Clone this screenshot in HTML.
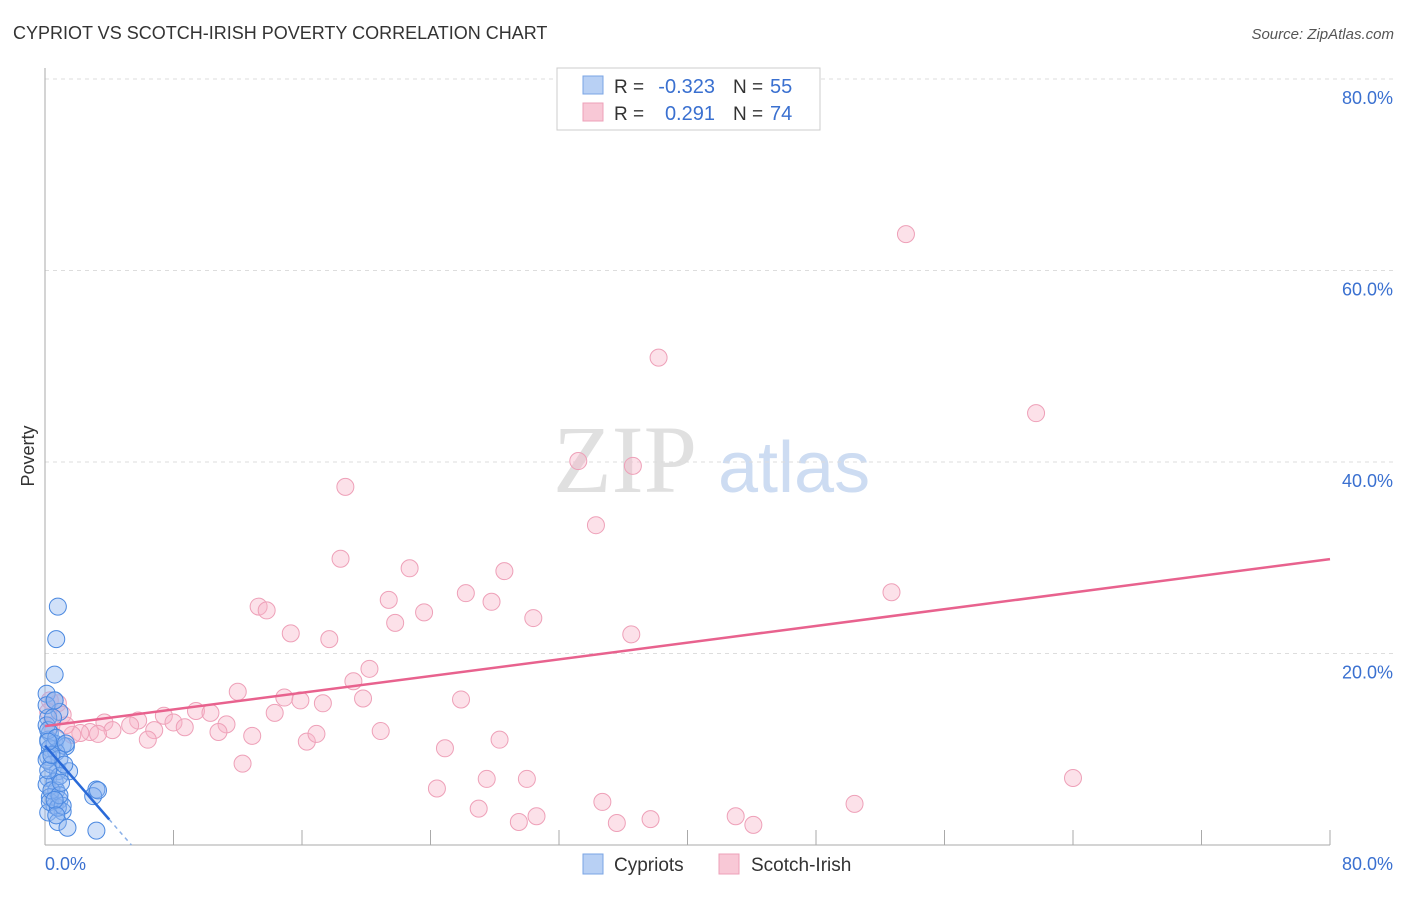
<!DOCTYPE html>
<html><head><meta charset="utf-8"><style>
body{margin:0;background:#fff;font-family:"Liberation Sans",sans-serif;}
</style></head><body>
<svg width="1406" height="892" id="c" font-family="Liberation Sans, sans-serif">
<text x="13" y="39" font-size="18" fill="#333">CYPRIOT VS SCOTCH-IRISH POVERTY CORRELATION CHART</text>
<text x="1394" y="39" font-size="15" fill="#555" font-style="italic" text-anchor="end">Source: ZipAtlas.com</text>
<text x="34" y="456" font-size="18" fill="#333" transform="rotate(-90 34 456)" text-anchor="middle">Poverty</text>
<text x="553" y="492" font-size="96" fill="#e0e0e0" style="font-family:'Liberation Serif',serif">ZIP</text>
<text x="718" y="492" font-size="72" fill="#cddcf2">atlas</text>
<g id="grid"></g><g id="pts"></g><g id="lines"></g>
<g>
<rect x="557" y="68" width="263" height="62" fill="#fff" stroke="#ccc"/>
<rect x="583" y="76" width="20" height="18" fill="#b8d0f4" stroke="#7aa4e4"/>
<rect x="583" y="103" width="20" height="18" fill="#f8c8d6" stroke="#eea0b8"/>
<text x="614" y="93" font-size="19" fill="#333">R =</text>
<text x="715" y="93" font-size="20" fill="#3a70d0" text-anchor="end">-0.323</text>
<text x="733" y="93" font-size="19" fill="#333">N =</text>
<text x="770" y="93" font-size="20" fill="#3a70d0">55</text>
<text x="614" y="120" font-size="19" fill="#333">R =</text>
<text x="715" y="120" font-size="20" fill="#3a70d0" text-anchor="end">0.291</text>
<text x="733" y="120" font-size="19" fill="#333">N =</text>
<text x="770" y="120" font-size="20" fill="#3a70d0">74</text>
</g>
<g>
<rect x="583" y="854" width="20" height="20" fill="#b8d0f4" stroke="#7aa4e4"/>
<text x="614" y="871" font-size="19" fill="#333">Cypriots</text>
<rect x="719" y="854" width="20" height="20" fill="#f8c8d6" stroke="#eea0b8"/>
<text x="751" y="871" font-size="19" fill="#333">Scotch-Irish</text>
</g>
</svg>
<script>
const yTicks=[20,40,60,80];
const pinkX=[53.6,38.2,61.7,33.2,36.6,18.7,34.3,18.4,22.7,28.6,26.2,27.8,21.4,13.3,13.8,23.6,21.8,30.4,52.7,15.3,17.7,36.5,20.2,19.2,12.0,25.9,19.8,14.9,15.9,17.3,9.4,10.3,14.3,7.4,5.8,3.7,5.3,8.0,11.3,8.7,10.8,6.8,4.2,2.8,2.2,3.3,1.7,6.4,12.9,16.3,16.9,20.9,28.3,24.9,12.3,27.5,30.0,64.0,24.4,34.7,27.0,50.4,29.5,30.6,35.6,37.7,43.0,44.1,0.8,1.1,1.3,0.3,0.2,0.4];
const pinkY=[63.8,50.9,45.1,40.1,39.6,37.4,33.4,29.9,28.9,28.6,26.3,25.4,25.6,24.9,24.5,24.3,23.2,23.7,26.4,22.1,21.5,22.0,18.4,17.1,16.0,15.2,15.3,15.4,15.1,14.8,14.0,13.8,13.8,13.5,13.0,12.8,12.5,12.8,12.6,12.3,11.8,12.0,12.0,11.8,11.7,11.6,11.5,11.0,11.4,10.8,11.6,11.9,11.0,10.1,8.5,6.9,6.9,7.0,5.9,4.5,3.8,4.3,2.4,3.0,2.3,2.7,3.0,2.1,14.8,13.6,12.5,15.1,13.9,12.5];
const blueX=[0.8,0.7,0.6,0.1,0.6,0.9,0.2,0.3,0.2,0.6,1.1,1.3,0.3,0.7,0.2,0.9,1.5,0.8,0.2,0.6,0.1,0.7,0.3,0.9,0.6,1.1,0.2,3.2,3.0,3.3,0.8,1.4,3.2,0.4,0.1,0.1,0.9,0.3,0.8,1.1,0.2,0.6,0.7,1.3,0.1,0.4,0.9,0.6,0.2,0.4,1.2,1.0,0.7,0.2,0.5];
const blueY=[24.9,21.5,17.8,15.8,15.1,13.9,13.3,11.7,11.0,10.6,10.4,10.3,10.1,9.7,9.2,9.0,7.7,7.7,7.0,6.6,6.3,5.7,5.0,4.7,4.1,3.5,3.4,5.8,5.1,5.7,2.4,1.8,1.5,8.4,12.5,14.6,7.2,4.5,3.9,4.1,12.0,15.1,11.2,10.6,8.9,5.7,5.2,4.7,7.8,9.4,8.4,6.5,3.1,10.8,13.3];
const NS='http://www.w3.org/2000/svg';
const X=v=>45+v*1285/80, Y=v=>845-v*(845-79)/80;
function mk(t,a,p){const e=document.createElementNS(NS,t);for(const k in a)e.setAttribute(k,a[k]);p.appendChild(e);return e;}
const grid=document.getElementById('grid');
yTicks.forEach(t=>{
 const l=mk('line',{x1:45,x2:1395,y1:Y(t),y2:Y(t),stroke:'#ddd','stroke-dasharray':'4,4'},grid);
 
 
 const tx=mk('text',{x:1393,y:Y(t)+25,'font-size':18,fill:'#3a70d0','text-anchor':'end'},grid);tx.textContent=t.toFixed(1)+'%';
 
 
});
mk('line',{x1:45,x2:45,y1:68,y2:845,stroke:'#aaa'},grid);
mk('line',{x1:45,x2:1330,y1:845,y2:845,stroke:'#aaa'},grid);
for(let i=0;i<=10;i++)mk('line',{x1:X(i*8),x2:X(i*8),y1:830,y2:845,stroke:'#aaa'},grid);
let t1=mk('text',{x:45,y:870,'font-size':18,fill:'#3a70d0'},grid);t1.textContent='0.0%';

let t2=mk('text',{x:1393,y:870,'font-size':18,fill:'#3a70d0','text-anchor':'end'},grid);t2.textContent='80.0%';

const pts=document.getElementById('pts');
pinkX.forEach((x,i)=>{const c=mk('circle',{cx:X(x),cy:Y(pinkY[i]),r:8.5,fill:'rgba(248,180,200,0.4)',stroke:'#eea0b8','stroke-width':1},pts);
 
 });
blueX.forEach((x,i)=>{const c=mk('circle',{cx:X(x),cy:Y(blueY[i]),r:8.5,fill:'rgba(140,180,240,0.4)',stroke:'#4a88e0','stroke-width':1},pts);
 
 });
function reg(xs,ys){const n=xs.length;let mx=0,my=0;xs.forEach((x,i)=>{mx+=x;my+=ys[i];});mx/=n;my/=n;let sxy=0,sxx=0;xs.forEach((x,i)=>{sxy+=(x-mx)*(ys[i]-my);sxx+=(x-mx)**2;});const b=sxy/sxx;return [my-b*mx,b];}
const lines=document.getElementById('lines');
const [pa,pb]=reg(pinkX,pinkY);
const pl=mk('line',{x1:X(0),y1:Y(pa),x2:X(80),y2:Y(pa+pb*80),stroke:'#e8628e','stroke-width':2.5},lines);


const [ba,bb]=reg(blueX,blueY);
const xe=Math.min(4,-ba/bb);
const bl=mk('line',{x1:X(0),y1:Y(ba),x2:X(xe),y2:Y(ba+bb*xe),stroke:'#2a6ad8','stroke-width':2.5},lines);


const xz=-ba/bb;
const bd=mk('line',{x1:X(xe),y1:Y(ba+bb*xe),x2:X(xz),y2:Y(0),stroke:'#8ab0e8','stroke-width':1.5,'stroke-dasharray':'4,4'},lines);


</script>
</body></html>
